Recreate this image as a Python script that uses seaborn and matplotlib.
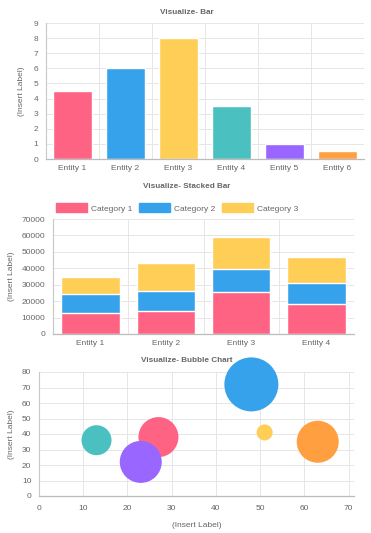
import matplotlib
matplotlib.use("Agg")
import matplotlib.pyplot as plt
import seaborn as sns
import pandas as pd
import numpy as np

# --- data ---
bar_entities = ["Entity 1", "Entity 2", "Entity 3", "Entity 4", "Entity 5", "Entity 6"]
bar_values = [4.5, 6, 8, 3.5, 1, 0.5]

stack_entities = ["Entity 1", "Entity 2", "Entity 3", "Entity 4"]
stack_categories = ["Category 1", "Category 2", "Category 3"]
cat1 = [13000, 14000, 25500, 18000]
cat2 = [11500, 12000, 14000, 13000]
cat3 = [10500, 17000, 19500, 16000]

bubble_x = [27, 48, 51, 13, 23, 63]
bubble_y = [38, 72, 41, 36, 22, 35]
bubble_r = [20, 27, 8, 15, 21, 21]  # radius in px

colors = ["#FF6384", "#36A2EB", "#FFCE56", "#4BC0C0", "#9966FF", "#FF9F40"]

sns.set_style("white")
plt.rcParams["font.family"] = ["Liberation Sans", "DejaVu Sans"]
TXT = "#666666"
GRID = "#e6e6e6"
AXIS = "#c8c8c8"
FS = 6.0

fig = plt.figure(figsize=(3.71, 5.33), dpi=100)
W, H = 371, 533


def place(left, top, right, bottom):
    return fig.add_axes([left / W, 1 - bottom / H, (right - left) / W, (bottom - top) / H])


def title(text, y):
    fig.text(187 / W, 1 - y / H, text, ha="center", va="center",
             fontsize=5.9, fontweight="bold", color=TXT)


def style(ax, cat_n=None):
    for s in ["top", "right"]:
        ax.spines[s].set_visible(False)
    ax.spines["left"].set_color(AXIS)
    ax.spines["bottom"].set_color("#bbbbbb")
    ax.spines["left"].set_linewidth(0.8)
    ax.spines["bottom"].set_linewidth(0.9)
    ax.tick_params(axis="both", labelsize=FS, colors=TXT, length=3.5, width=0.7, pad=2)
    ax.tick_params(axis="y", color=GRID)
    ax.grid(axis="y", color=GRID, linewidth=0.7)
    if cat_n is not None:
        ax.set_xticks(np.arange(-0.5, cat_n, 1.0), minor=True)
        ax.tick_params(axis="x", which="major", length=0, pad=4.5)
        ax.tick_params(axis="x", which="minor", length=4, color=GRID, width=0.7)
        ax.grid(axis="x", which="minor", color=GRID, linewidth=0.7)
        ax.set_xlim(-0.5, cat_n - 0.5)
    else:
        ax.tick_params(axis="x", color=GRID, pad=3)
        ax.grid(axis="x", color=GRID, linewidth=0.7)
    ax.set_axisbelow(True)


# --- chart 1: bar ---
ax1 = place(46, 23, 364, 159)
df1 = pd.DataFrame({"entity": bar_entities, "value": bar_values})
sns.barplot(data=df1, x="entity", y="value", hue="entity", palette=colors[:6],
            width=0.72, saturation=1, legend=False, ax=ax1)
ax1.set_ylim(0, 9)
ax1.set_yticks(range(0, 10))
style(ax1, 6)
ax1.set_xlabel("")
ax1.set_ylabel("(Insert Label)", fontsize=FS, color=TXT, labelpad=6)
title("Visualize- Bar", 13)

# --- chart 2: stacked bar (cumulative overlays) ---
ax2 = place(53, 219, 354, 334)
c1 = np.array(cat1)
c12 = c1 + np.array(cat2)
c123 = c12 + np.array(cat3)
for vals, col in [(c123, colors[2]), (c12, colors[1]), (c1, colors[0])]:
    sns.barplot(x=stack_entities, y=vals, color=col, width=0.78, saturation=1, ax=ax2)
ax2.set_ylim(0, 70000)
ax2.set_yticks(range(0, 70001, 10000))
style(ax2, 4)
ax2.set_ylabel("(Insert Label)", fontsize=FS, color=TXT, labelpad=5)
title("Visualize- Stacked Bar", 187)
handles = [plt.Rectangle((0, 0), 1, 1, color=c) for c in colors[:3]]
fig.legend(handles, stack_categories, loc="center", bbox_to_anchor=(177 / W, 1 - 208 / H),
           ncol=3, frameon=False, fontsize=FS, labelcolor=TXT, handlelength=3.7,
           handleheight=1.2, handletextpad=0.5, columnspacing=0.8)

# --- chart 3: bubble ---
ax3 = place(39, 372, 354, 496)
df3 = pd.DataFrame({"x": bubble_x, "y": bubble_y, "c": range(len(bubble_x))})
sizes = [(2 * r * 0.72) ** 2 for r in bubble_r]
sns.scatterplot(data=df3, x="x", y="y", hue="c", palette=colors, s=sizes,
                linewidth=0, alpha=1, legend=False, clip_on=False, ax=ax3)
ax3.set_xlim(0, 71.2)
ax3.set_ylim(0, 80)
ax3.set_xticks(range(0, 71, 10))
ax3.set_yticks(range(0, 81, 10))
style(ax3)
ax3.set_xlabel("(Insert Label)", fontsize=FS, color=TXT, labelpad=7)
ax3.set_ylabel("(Insert Label)", fontsize=FS, color=TXT, labelpad=5)
title("Visualize- Bubble Chart", 361)

fig.savefig("out.png", dpi=100)
